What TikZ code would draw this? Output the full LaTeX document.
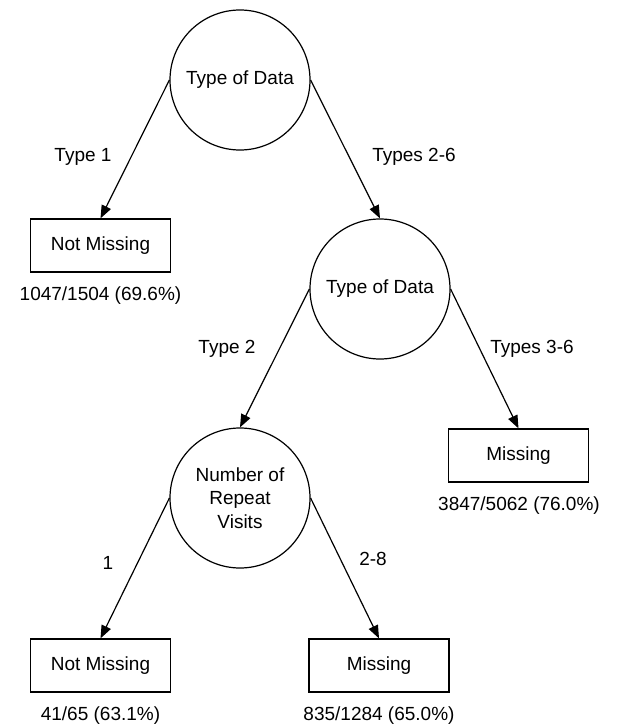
\documentclass[tikz,border=0pt]{standalone}
\usepackage{fontspec}
\setmainfont{Liberation Sans}
\usetikzlibrary{arrows.meta}
\begin{document}
\begin{tikzpicture}
  [x=1pt,y=-1pt,
   every node/.style={font=\fontsize{19}{23.5}\selectfont,inner sep=0pt},
   split/.style={circle,draw,line width=1.2pt,minimum size=140pt,align=center},
   leaf/.style={rectangle,draw,line width=1.2pt,minimum width=140pt,minimum height=53pt},
   branch/.style={line width=1.2pt,-{Triangle[length=13pt,width=10pt]}}]
  \useasboundingbox (0,0) rectangle (617,725);

  \node[split] (d1) at (240,80)  {Type of Data};
  \node[split] (d2) at (380,289) {Type of Data};
  \node[split] (d3) at (240,498) {Number of\\Repeat\\Visits};
  \node[leaf]  (n1) at (100.5,245.5) {Not Missing};
  \node[leaf]  (m1) at (518.5,455.5) {Missing};
  \node[leaf]  (n2) at (100.5,665.5) {Not Missing};
  \node[leaf]  (m2) at (379,665.5)   {Missing};

  \node (l1) at (83,157)  {Type 1};
  \node (l2) at (414,157) {Types 2-6};
  \node (l3) at (227,349) {Type 2};
  \node (l4) at (532,349) {Types 3-6};
  \node (l5) at (108,563) {1};
  \node (l6) at (373,559) {2-8};

  \node (c1) at (100.5,296) {1047/1504 (69.6\%)};
  \node (c2) at (519,506)   {3847/5062 (76.0\%)};
  \node (c3) at (100.5,716) {41/65 (63.1\%)};
  \node (c4) at (379,716)   {835/1284 (65.0\%)};

  \foreach \from/\to in {d1.west/n1.north,d1.east/d2.north,d2.west/d3.north,
                         d2.east/m1.north,d3.west/n2.north,d3.east/m2.north}
    \draw[branch] (\from) -- (\to);

\end{tikzpicture}
\end{document}
